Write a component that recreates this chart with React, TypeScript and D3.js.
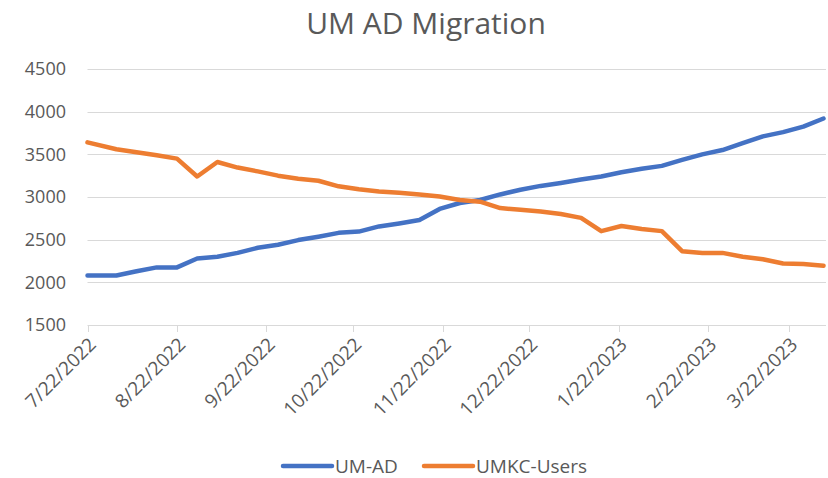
import React, { useEffect, useRef } from "react"
import * as d3 from "d3"

// weekly snapshots (first one is a friday, then mondays)
const dates = [
  "7/22/2022", "8/1/2022", "8/8/2022", "8/15/2022", "8/22/2022", "8/29/2022",
  "9/5/2022", "9/12/2022", "9/19/2022", "9/26/2022", "10/3/2022", "10/10/2022",
  "10/17/2022", "10/24/2022", "10/31/2022", "11/7/2022", "11/14/2022", "11/21/2022",
  "11/28/2022", "12/5/2022", "12/12/2022", "12/19/2022", "12/26/2022", "1/2/2023",
  "1/9/2023", "1/16/2023", "1/23/2023", "1/30/2023", "2/6/2023", "2/13/2023",
  "2/20/2023", "2/27/2023", "3/6/2023", "3/13/2023", "3/20/2023", "3/27/2023",
  "4/3/2023",
]

const umAd = [
  2080, 2080, 2130, 2175, 2175, 2280, 2300, 2345, 2405, 2440, 2495, 2535,
  2580, 2595, 2655, 2690, 2730, 2860, 2930, 2965, 3030, 3085, 3130, 3165,
  3205, 3240, 3290, 3330, 3365, 3435, 3500, 3550, 3630, 3710, 3760, 3825,
  3920,
]

const umkcUsers = [
  3640, 3560, 3525, 3490, 3450, 3240, 3410, 3345, 3300, 3250, 3215, 3190,
  3125, 3090, 3065, 3050, 3030, 3005, 2965, 2945, 2870, 2850, 2830, 2800,
  2755, 2600, 2660, 2625, 2600, 2365, 2345, 2345, 2300, 2270, 2220, 2215,
  2195,
]

const yTicks = [1500, 2000, 2500, 3000, 3500, 4000, 4500]

const xTickLabels = [
  "7/22/2022", "8/22/2022", "9/22/2022", "10/22/2022", "11/22/2022",
  "12/22/2022", "1/22/2023", "2/22/2023", "3/22/2023",
]

const seriesNames = ["UM-AD", "UMKC-Users"]

export default function App() {
  const ref = useRef<SVGSVGElement | null>(null)

  useEffect(() => {
    const W = 828, H = 478
    const font = "'Open Sans', sans-serif"
    const textColor = "#595959"
    const colors = ["#4472C4", "#ED7D31"]

    const svg = d3.select(ref.current)
    svg.selectAll("*").remove()
    svg.append("rect").attr("width", W).attr("height", H).attr("fill", "#fff")

    const parse = d3.timeParse("%m/%d/%Y")
    const x = d3
      .scaleTime()
      .domain([parse(dates[0]) as Date, parse(dates[dates.length - 1]) as Date])
      .range([87.5, 823.5])
    const y = d3.scaleLinear().domain([1500, 4500]).range([325, 69])

    // gridlines
    svg
      .selectAll(".grid")
      .data(yTicks)
      .join("line")
      .attr("class", "grid")
      .attr("x1", 87.5)
      .attr("x2", 826)
      .attr("y1", (d) => Math.round(y(d)) + 0.5)
      .attr("y2", (d) => Math.round(y(d)) + 0.5)
      .attr("stroke", "#d9d9d9")
      .attr("stroke-width", 1)

    // y labels
    svg
      .selectAll(".ylab")
      .data(yTicks)
      .join("text")
      .attr("class", "ylab")
      .attr("x", 66)
      .attr("y", (d) => y(d))
      .attr("dy", "0.36em")
      .attr("text-anchor", "end")
      .attr("font-family", font)
      .attr("font-size", 18)
      .attr("fill", textColor)
      .text((d) => d)

    // x ticks + rotated labels
    const xTicks = xTickLabels.map((s) => parse(s) as Date)
    svg
      .selectAll(".xtick")
      .data(xTicks)
      .join("line")
      .attr("class", "xtick")
      .attr("x1", (d) => Math.round(x(d)) + 0.5)
      .attr("x2", (d) => Math.round(x(d)) + 0.5)
      .attr("y1", 325)
      .attr("y2", 332)
      .attr("stroke", "#d9d9d9")

    svg
      .selectAll(".xlab")
      .data(xTickLabels)
      .join("text")
      .attr("class", "xlab")
      .attr("transform", (d) => `translate(${x(parse(d) as Date) + 5},${341}) rotate(-45)`)
      .attr("text-anchor", "end")
      .attr("dy", "0.35em")
      .attr("font-family", font)
      .attr("font-size", 19)
      .attr("fill", textColor)
      .text((d) => d)

    // lines
    const rows = dates.map((d, i) => ({ date: parse(d) as Date, a: umAd[i], b: umkcUsers[i] }))
    const line = (key: "a" | "b") =>
      d3
        .line<any>()
        .x((d) => x(d.date))
        .y((d) => y(d[key]))

    ;(["a", "b"] as const).forEach((k, i) => {
      svg
        .append("path")
        .datum(rows)
        .attr("d", line(k))
        .attr("fill", "none")
        .attr("stroke", colors[i])
        .attr("stroke-width", 4.5)
        .attr("stroke-linejoin", "round")
        .attr("stroke-linecap", "round")
    })

    // title
    svg
      .append("text")
      .attr("x", 426)
      .attr("y", 34)
      .attr("text-anchor", "middle")
      .attr("font-family", font)
      .attr("font-size", 30)
      .attr("fill", textColor)
      .text("UM AD Migration")

    // legend
    const legendX = [283, 424]
    const lg = svg
      .selectAll(".legend")
      .data(seriesNames)
      .join("g")
      .attr("class", "legend")
      .attr("transform", (_, i) => `translate(${legendX[i]},466)`)
    lg.append("line")
      .attr("x1", 0)
      .attr("x2", 49)
      .attr("stroke", (_, i) => colors[i])
      .attr("stroke-width", 4.5)
      .attr("stroke-linecap", "round")
    lg.append("text")
      .attr("x", 52)
      .attr("dy", "0.36em")
      .attr("font-family", font)
      .attr("font-size", 19)
      .attr("fill", textColor)
      .text((d) => d)
  }, [])

  return (
    <svg
      ref={ref}
      width={828}
      height={478}
      style={{ position: "absolute", left: 0, top: 0 }}
    />
  )
}
